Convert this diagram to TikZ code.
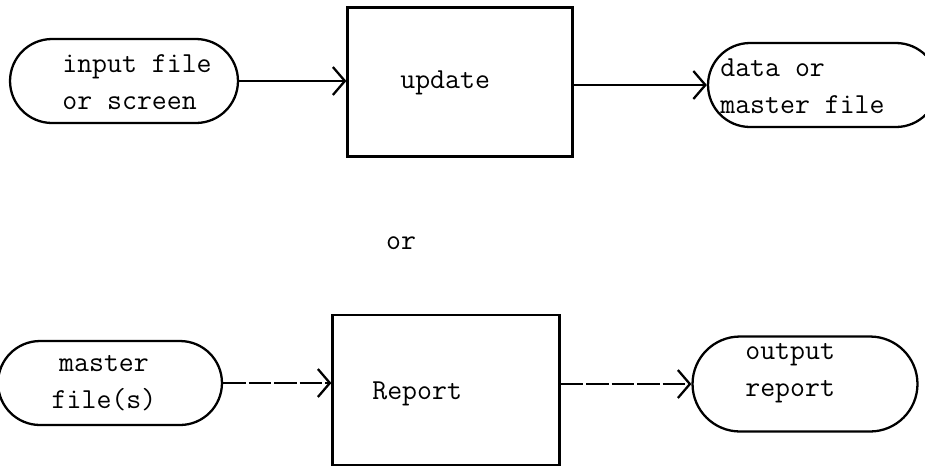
\documentclass[tikz,border=0pt]{standalone}
\usetikzlibrary{arrows.meta}
\tikzstyle{proc} = [rectangle, draw, line width=1.3pt,
minimum width=4.5cm, minimum height=2.98cm]
\tikzstyle{term} = [rectangle, draw, line width=1.3pt, rounded corners=0.84cm,
minimum width=4.56cm, minimum height=1.68cm]
\tikzstyle{txt} = [align=left, inner sep=0pt,
font=\fontsize{16.5}{21}\selectfont\ttfamily]
\tikzstyle{line} = [draw, line width=1.3pt, -{Straight Barb[length=2.4mm, width=5.6mm]}]
\tikzstyle{faint} = [dash pattern=on 13pt off 1.5pt]

\begin{document}
\begin{tikzpicture}[x=0.02cm, y=-0.02cm]
	\useasboundingbox (0,0) rectangle (925,467);
	% Place nodes (update run)
	\node [term] (inFile) at (124,81) {};
	\node [txt, anchor=west] (inFileTxt) at (62,82) {input file\\or screen};
	\node [proc] (upd) at (460,82) {};
	\node [txt, anchor=west] (updTxt) at (400,83) {update};
	\node [term, minimum width=4.6cm] (master) at (823,85) {};
	\node [txt, anchor=west] (masterTxt) at (720,86) {data or\\master file};
	%
	\path [line] (inFile.east) -- (inFile.east -| upd.west);
	\path [line] (upd.east |- master.west) -- (master.west);
	
	\node [txt] (orTxt) at (401,243) {or};
	
	% Place nodes (report run)
	\node [term, minimum width=4.48cm] (files) at (110,383) {};
	\node [txt, align=center] (filesTxt) at (104,383) {master\\file(s)};
	\node [proc, minimum width=4.54cm, minimum height=3cm] (rep) at (446,390) {};
	\node [txt, anchor=west] (repTxt) at (372,394) {Report};
	\node [term, minimum width=4.5cm, minimum height=1.9cm, rounded corners=0.95cm] (outRep) at (805,384) {};
	\node [txt, anchor=west] (outRepTxt) at (745,373) {output\\report};
	%
	\path [line, faint] (files.east) -- (files.east -| rep.west);
	\path [line, faint] (rep.east |- outRep.west) -- (outRep.west);
\end{tikzpicture}
\end{document}
